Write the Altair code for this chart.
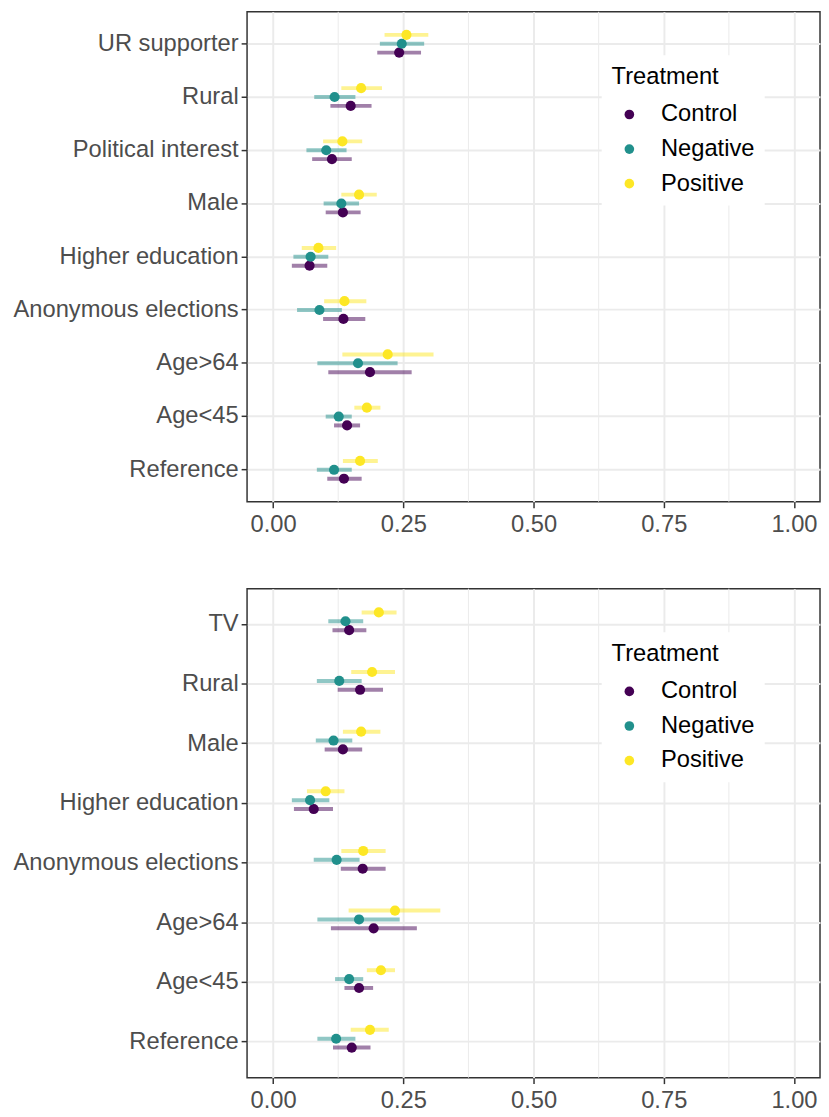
import altair as alt
import pandas as pd

treatments = ["Control", "Negative", "Positive"]
treat_colors = ["#440154", "#21908C", "#FDE725"]
x_ticks = [0.0, 0.25, 0.5, 0.75, 1.0]
minor_ticks = [0.125, 0.375, 0.625, 0.875]

# ---- top panel ----
top_cats = ["UR supporter", "Rural", "Political interest", "Male", "Higher education",
            "Anonymous elections", "Age>64", "Age<45", "Reference"]
top_control_est = [0.242, 0.149, 0.113, 0.134, 0.070, 0.135, 0.186, 0.142, 0.136]
top_control_lo = [0.200, 0.110, 0.075, 0.101, 0.036, 0.096, 0.106, 0.117, 0.104]
top_control_hi = [0.284, 0.189, 0.151, 0.168, 0.104, 0.177, 0.266, 0.167, 0.170]
top_negative_est = [0.247, 0.118, 0.102, 0.131, 0.072, 0.089, 0.163, 0.126, 0.117]
top_negative_lo = [0.205, 0.079, 0.064, 0.097, 0.039, 0.046, 0.085, 0.101, 0.084]
top_negative_hi = [0.290, 0.158, 0.141, 0.165, 0.106, 0.132, 0.239, 0.151, 0.151]
top_positive_est = [0.256, 0.169, 0.133, 0.165, 0.087, 0.137, 0.220, 0.180, 0.167]
top_positive_lo = [0.214, 0.131, 0.096, 0.131, 0.055, 0.098, 0.133, 0.156, 0.134]
top_positive_hi = [0.298, 0.209, 0.171, 0.199, 0.121, 0.179, 0.308, 0.206, 0.201]

# ---- bottom panel ----
bot_cats = ["TV", "Rural", "Male", "Higher education", "Anonymous elections",
            "Age>64", "Age<45", "Reference"]
bot_control_est = [0.146, 0.167, 0.134, 0.078, 0.172, 0.193, 0.165, 0.151]
bot_control_lo = [0.114, 0.124, 0.099, 0.040, 0.130, 0.111, 0.137, 0.115]
bot_control_hi = [0.179, 0.211, 0.171, 0.115, 0.216, 0.276, 0.192, 0.187]
bot_negative_est = [0.139, 0.127, 0.116, 0.071, 0.122, 0.165, 0.146, 0.121]
bot_negative_lo = [0.106, 0.084, 0.082, 0.036, 0.078, 0.085, 0.119, 0.085]
bot_negative_hi = [0.173, 0.170, 0.152, 0.108, 0.166, 0.243, 0.173, 0.158]
bot_positive_est = [0.203, 0.190, 0.169, 0.101, 0.173, 0.234, 0.207, 0.186]
bot_positive_lo = [0.170, 0.150, 0.134, 0.065, 0.131, 0.145, 0.180, 0.149]
bot_positive_hi = [0.237, 0.234, 0.206, 0.137, 0.216, 0.321, 0.234, 0.222]


def build_df(cats, series):
    rows = []
    for t, col, (est, lo, hi) in zip(treatments, treat_colors, series):
        for c, e, l, h in zip(cats, est, lo, hi):
            rows.append({"Category": c, "Treatment": t, "col": col,
                         "est": e, "lo": l, "hi": h})
    return pd.DataFrame(rows)


FONT = "Liberation Sans"
FS = 24


def panel(cats, series, height):
    df = build_df(cats, series)
    n = len(cats)
    band = height / (n + 0.2)
    off = band / 6.0
    xscale = alt.Scale(domain=[-0.05, 1.05], nice=False, zero=False)
    yenc = alt.Y("Category:N", sort=cats, title=None,
                 scale=alt.Scale(paddingInner=0, paddingOuter=0.1, round=False))
    yoff = alt.YOffset("Treatment:N",
                       scale=alt.Scale(type="point", padding=0,
                                       domain=["Positive", "Negative", "Control"],
                                       range=[band / 2 - off, band / 2 + off]))

    minor = alt.Chart(pd.DataFrame({"v": minor_ticks})).mark_rule(
        color="#EBEBEB", strokeWidth=1
    ).encode(x=alt.X("v:Q", scale=xscale, title=None))

    bars = alt.Chart(df).mark_rule(strokeWidth=4, opacity=0.5).encode(
        x=alt.X("lo:Q", scale=xscale, title=None,
                axis=alt.Axis(values=x_ticks, format=".2f", labelPadding=5)),
        x2="hi:Q",
        y=yenc,
        yOffset=yoff,
        stroke=alt.Stroke("col:N", scale=None),
    )
    pts = alt.Chart(df).mark_circle(size=105, opacity=1).encode(
        x=alt.X("est:Q", scale=xscale, title=None),
        y=yenc,
        yOffset=yoff,
        color=alt.Color(
            "Treatment:N", scale=alt.Scale(domain=treatments, range=treat_colors),
            legend=alt.Legend(
                title="Treatment", orient="none", legendX=359, legendY=44,
                fillColor="white", padding=10,
                titleFontSize=FS, titleColor="black", titleFontWeight="normal",
                titleFont=FONT, titlePadding=14,
                labelFontSize=FS, labelColor="black", labelFont=FONT,
                symbolType="circle", symbolSize=95, symbolStrokeWidth=0,
                symbolOpacity=1, rowPadding=11, symbolOffset=6, labelOffset=20,
            ),
        ),
    )
    return alt.layer(minor, bars, pts).properties(width=580, height=height)


top = panel(top_cats, [(top_control_est, top_control_lo, top_control_hi),
                       (top_negative_est, top_negative_lo, top_negative_hi),
                       (top_positive_est, top_positive_lo, top_positive_hi)], 496)
bot = panel(bot_cats, [(bot_control_est, bot_control_lo, bot_control_hi),
                       (bot_negative_est, bot_negative_lo, bot_negative_hi),
                       (bot_positive_est, bot_positive_lo, bot_positive_hi)], 495)

chart = alt.vconcat(top, bot, spacing=50).resolve_scale(
    color="independent"
).resolve_legend(color="independent").properties(
    padding={"left": 4, "top": -5, "right": 0, "bottom": 0}
).configure_view(
    stroke="#333333", strokeWidth=1.5
).configure_axis(
    labelFont=FONT, labelFontSize=FS, labelColor="#4D4D4D", labelLimit=0,
    tickColor="#333333", tickWidth=1.5, tickSize=6, labelPadding=3,
    domain=False, grid=True, gridColor="#EBEBEB", gridWidth=2,
).configure_legend(
    titleFont=FONT, labelFont=FONT
)

chart.save("out.html", embed_options={"renderer": "svg", "actions": False})
